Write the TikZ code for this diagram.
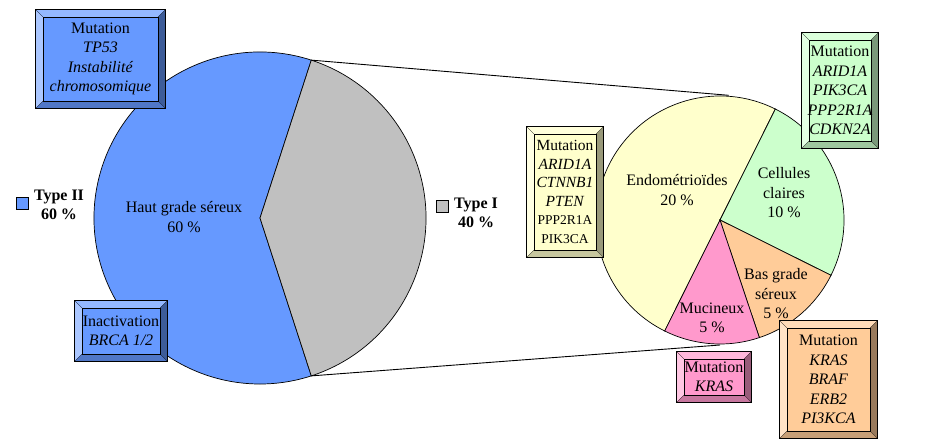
\documentclass[tikz,border=0pt]{standalone}
\usepackage{fontspec}
\setmainfont{Liberation Serif}
\usetikzlibrary{calc}
\definecolor{cblue}{HTML}{6699FF}
\definecolor{cgray}{HTML}{C0C0C0}
\definecolor{cyellow}{HTML}{FFFFCC}
\definecolor{cgreen}{HTML}{CCFFCC}
\definecolor{corange}{HTML}{FFCC99}
\definecolor{cpink}{HTML}{FF99CC}
\tikzset{
  lbl/.style={align=center, font=\fontsize{16}{19.5}\selectfont, inner sep=0pt},
  legtxt/.style={align=center, font=\fontsize{16}{19}\selectfont\bfseries, inner sep=0pt},
  legsq/.style={draw=black, line width=0.8pt, minimum size=12pt, inner sep=0pt},
  bbox/.style={inner sep=0pt, align=center, font=\fontsize{16}{19.5}\selectfont},
  pieedge/.style={draw=black, line width=0.7pt},
  zoomline/.style={draw=black, line width=0.9pt},
}
\newcommand\bevelit[2]{%
  \fill[#2!55!white] (#1.north west) -- (#1.south west) -- ($(#1.south west)+(7,-7)$) -- ($(#1.north west)+(7,7)$) -- cycle;
  \fill[#2!70!white] (#1.north west) -- (#1.north east) -- ($(#1.north east)+(-7,7)$) -- ($(#1.north west)+(7,7)$) -- cycle;
  \fill[#2!60!black] (#1.north east) -- (#1.south east) -- ($(#1.south east)+(-7,-7)$) -- ($(#1.north east)+(-7,7)$) -- cycle;
  \fill[#2!78!black] (#1.south west) -- (#1.south east) -- ($(#1.south east)+(-7,-7)$) -- ($(#1.south west)+(7,-7)$) -- cycle;
  \draw[line width=0.3pt] ($(#1.north west)+(7,7)$) rectangle ($(#1.south east)+(-7,-7)$);
  \draw[line width=0.3pt] (#1.north west) -- ($(#1.north west)+(7,7)$)
        (#1.north east) -- ($(#1.north east)+(-7,7)$)
        (#1.south west) -- ($(#1.south west)+(7,-7)$)
        (#1.south east) -- ($(#1.south east)+(-7,-7)$);
  \draw[line width=0.9pt] (#1.north west) rectangle (#1.south east);
}
\begin{document}
\begin{tikzpicture}[x=1pt,y=-1pt]
\useasboundingbox (0,0) rectangle (941,439);

% left pie
\begin{scope}[shift={(260,218)}, yscale=-1]
  \filldraw[fill=cblue, pieedge] (0,0) -- (72:166) arc[start angle=72, end angle=288, radius=166] -- cycle;
  \filldraw[fill=cgray, pieedge] (0,0) -- (-72:166) arc[start angle=-72, end angle=72, radius=166] -- cycle;
  \coordinate (ltop) at (72:166);
  \coordinate (lbot) at (-72:166);
\end{scope}

% right pie
\begin{scope}[shift={(720,220)}, yscale=-1]
  \filldraw[fill=cyellow, pieedge] (0,0) -- (63.5:124) arc[start angle=63.5, end angle=243.5, radius=124] -- cycle;
  \filldraw[fill=cgreen, pieedge] (0,0) -- (-26.5:124) arc[start angle=-26.5, end angle=63.5, radius=124] -- cycle;
  \filldraw[fill=corange, pieedge] (0,0) -- (-71.5:124) arc[start angle=-71.5, end angle=-26.5, radius=124] -- cycle;
  \filldraw[fill=cpink, pieedge] (0,0) -- (243.5:124) arc[start angle=243.5, end angle=288.5, radius=124] -- cycle;
  \coordinate (rtop) at (86:125);
  \coordinate (rbot) at (-90:125);
\end{scope}

\draw[zoomline] (ltop) -- (rtop);
\draw[zoomline] (lbot) -- (rbot);

% pie labels
\node[lbl] (hg) at (184,217) {Haut grade séreux\\60~\%};
\node[lbl] (endo) at (677,190) {Endométrioïdes\\20~\%};
\node[lbl] (cell) at (784,193) {Cellules\\claires\\10~\%};
\node[lbl] (bas) at (776,294) {Bas grade\\séreux\\5~\%};
\node[lbl] (muc) at (712,318) {Mucineux\\5~\%};

% legends
\node[legsq, fill=cblue] (sq2) at (22.5,203) {};
\node[legtxt] (t2) at (59,205) {Type II\\60~\%};
\node[legsq, fill=cgray] (sq1) at (442,206) {};
\node[legtxt] (t1) at (476,213) {Type I\\40~\%};

% boxes
\node[bbox, fill=cblue, minimum width=129pt, minimum height=98pt] (btp) at (100.5,59) {};
\bevelit{btp}{cblue}
\node[bbox] at (btp.center) {Mutation\\\textit{TP53}\\\textit{Instabilité}\\\textit{chromosomique}};

\node[bbox, fill=cblue, minimum width=92pt, minimum height=60pt] (bbr) at (121,331) {};
\bevelit{bbr}{cblue}
\node[bbox] at (bbr.center) {Inactivation\\\textit{BRCA 1/2}};

\node[bbox, fill=cyellow, minimum width=76pt, minimum height=130pt] (bye) at (565,192) {};
\bevelit{bye}{cyellow}
\node[bbox, font=\fontsize{15.5}{18.5}\selectfont] at (bye.center) {Mutation\\\textit{ARID1A}\\\textit{CTNNB1}\\\textit{PTEN}\\{\fontsize{13.5}{16}\selectfont PPP2R1A}\\{\fontsize{13.5}{16}\selectfont PIK3CA}};

\node[bbox, fill=cgreen, minimum width=76pt, minimum height=115pt] (bgr) at (840,90.5) {};
\bevelit{bgr}{cgreen}
\node[bbox] at (bgr.center) {Mutation\\\textit{ARID1A}\\\textit{PIK3CA}\\\textit{PPP2R1A}\\\textit{CDKN2A}};

\node[bbox, fill=cpink, minimum width=74pt, minimum height=50pt] (bpk) at (714,377) {};
\bevelit{bpk}{cpink}
\node[bbox] at (bpk.center) {Mutation\\\textit{KRAS}};

\node[bbox, fill=corange, minimum width=97pt, minimum height=117pt] (bor) at (828.5,379.5) {};
\bevelit{bor}{corange}
\node[bbox] at (bor.center) {Mutation\\\textit{KRAS}\\\textit{BRAF}\\\textit{ERB2}\\\textit{PI3KCA}};
\end{tikzpicture}
\end{document}
